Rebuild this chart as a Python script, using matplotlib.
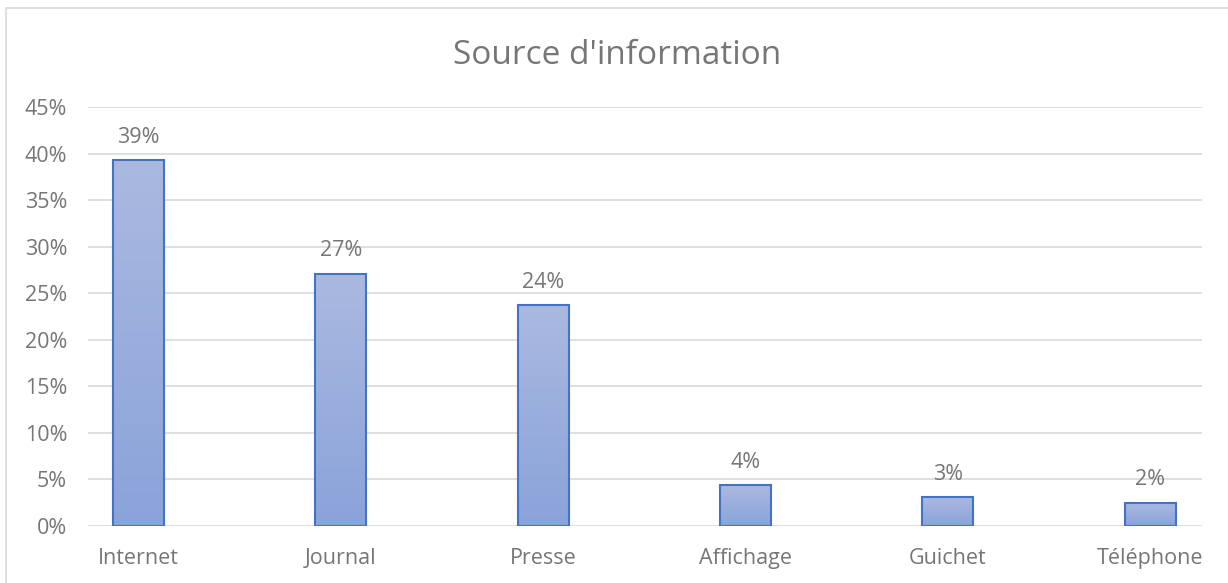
import numpy as np
import matplotlib.pyplot as plt
from matplotlib.patches import Rectangle
from matplotlib.colors import LinearSegmentedColormap

categories = ['Internet', 'Journal', 'Presse', 'Affichage', 'Guichet', 'Téléphone']
values = [39.3, 27.1, 23.7, 4.4, 3.1, 2.5]
labels = ['39%', '27%', '24%', '4%', '3%', '2%']
yticks = [0, 5, 10, 15, 20, 25, 30, 35, 40, 45]

plt.rcParams['font.family'] = ['Open Sans', 'DejaVu Sans']
grey = '#767676'

fig = plt.figure(figsize=(12.28, 5.83), dpi=100)
ax = fig.add_axes([88 / 1228, 57 / 583, 1114 / 1228, 419 / 583])

# bordure du graphique
fig.patches.append(Rectangle((6 / 1228, -0.01), 1.0, 1 - 8 / 583 + 0.01,
                             transform=fig.transFigure, fill=False,
                             edgecolor='#d9d9d9', linewidth=1.2))

x = np.arange(len(categories))
w = 0.252
cmap = LinearSegmentedColormap.from_list('grad', ['#8aa3da', '#aab9e0'])
grad = np.linspace(0, 1, 256).reshape(-1, 1)
for xi, v in zip(x, values):
    ax.imshow(grad, extent=[xi - w / 2, xi + w / 2, 0, v], origin='lower',
              cmap=cmap, aspect='auto', zorder=2)
    ax.add_patch(Rectangle((xi - w / 2, 0), w, v, fill=False, edgecolor='#4472c4',
                           linewidth=1.5, zorder=3))

for xi, v, lab in zip(x, values, labels):
    ax.annotate(lab, (xi, v), xytext=(0, 9), textcoords='offset points',
                ha='center', va='bottom', fontsize=15.5, color=grey)

ax.set_xlim(-0.25, 5.257)
ax.set_ylim(0, 45)
ax.set_xticks(x)
ax.set_xticklabels(categories, fontsize=15.5, color=grey)
ax.set_yticks(yticks)
ax.set_yticklabels([f'{t}%' for t in yticks], fontsize=15.5, color=grey)
ax.tick_params(length=0)
ax.tick_params(axis='y', pad=15)
ax.tick_params(axis='x', pad=16)
ax.yaxis.grid(True, color='#d9d9d9', linewidth=1.2)
ax.set_axisbelow(True)
for s in ax.spines.values():
    s.set_visible(False)

fig.text(617 / 1228, 1 - 55 / 583, "Source d'information", ha='center', va='center',
         fontsize=24, color=grey)

fig.savefig('out.png', dpi=100)
